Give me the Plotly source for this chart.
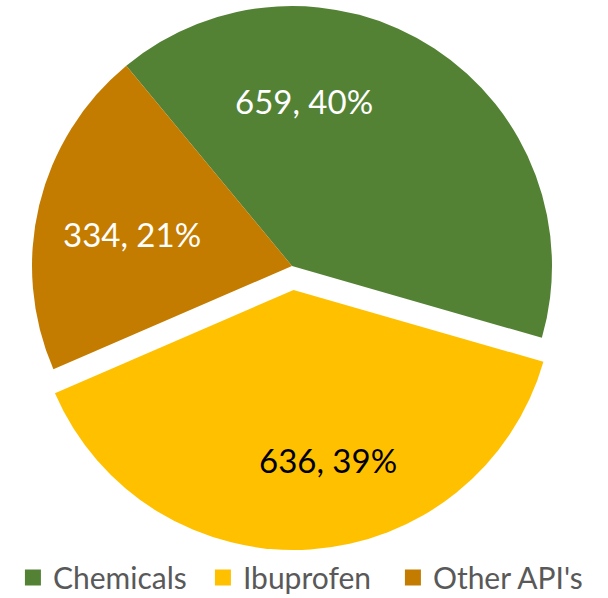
import math
import plotly.graph_objects as go

labels = ["Chemicals", "Ibuprofen", "Other API's"]
values = [659, 636, 334]
colors = ["#548235", "#FFC000", "#C47C00"]
text_colors = ["white", "black", "white"]

W, H = 608, 598
cx, cy, r = 292, 266, 260      # pie centre and radius (px)
rot = -39.6                    # first slice starts here, deg clockwise from 12 o'clock
exploded = "Ibuprofen"
pull_px = 24
# where Excel put the data labels (px)
label_pos = {"Chemicals": (304, 101), "Ibuprofen": (328, 460), "Other API's": (131.5, 234)}

total = sum(values)
CLEAR = "rgba(0,0,0,0)"


def domain(x0, y0):
    return dict(x=[(x0 - r) / W, (x0 + r) / W], y=[1 - (y0 + r) / H, 1 - (y0 - r) / H])


# shift the exploded slice along its mid angle
start = rot
for lab, v in zip(labels, values):
    span = v / total * 360
    if lab == exploded:
        mid = math.radians(start + span / 2)
        break
    start += span
ex_x = cx + pull_px * math.sin(mid)
ex_y = cy - pull_px * math.cos(mid)

fig = go.Figure()

# the two slices that stay in place
fig.add_trace(go.Pie(labels=labels, values=values, sort=False, direction="clockwise", rotation=rot,
                     marker=dict(colors=[CLEAR if l == exploded else c for l, c in zip(labels, colors)]),
                     textinfo="none", showlegend=False, domain=domain(cx, cy)))
# exploded slice
fig.add_trace(go.Pie(labels=labels, values=values, sort=False, direction="clockwise", rotation=rot,
                     marker=dict(colors=[c if l == exploded else CLEAR for l, c in zip(labels, colors)]),
                     textinfo="none", showlegend=False, domain=domain(ex_x, ex_y)))

# legend entries
for lab, c in zip(labels, colors):
    fig.add_trace(go.Scatter(x=[None], y=[None], mode="markers", name=lab,
                             marker=dict(symbol="square", size=16, color=c)))

for lab, v, tc in zip(labels, values, text_colors):
    px_, py_ = label_pos[lab]
    fig.add_annotation(x=px_ / W, y=1 - py_ / H, xref="paper", yref="paper", showarrow=False,
                       xanchor="center", yanchor="middle",
                       text=f"{v}, {int(v / total * 100 + 0.5)}%",
                       font=dict(family="Lato", size=33, color=tc))

fig.update_layout(
    width=W, height=H,
    margin=dict(l=0, r=0, t=0, b=0, autoexpand=False),
    paper_bgcolor="white", plot_bgcolor="white",
    xaxis=dict(visible=False), yaxis=dict(visible=False),
    legend=dict(orientation="h", x=0.49, xanchor="center", y=-0.009, yanchor="bottom",
                font=dict(family="Lato", size=30, color="#595959"),
                entrywidth=145, entrywidthmode="pixels"),
)

fig.write_html("out.html", config={"displayModeBar": False},
               post_script="document.body.style.margin = '0';")
